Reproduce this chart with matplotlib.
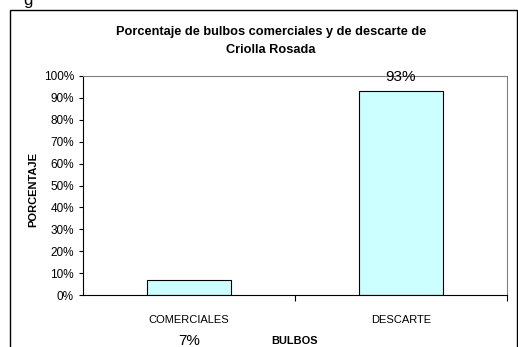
import matplotlib
matplotlib.use("Agg")
import matplotlib.pyplot as plt
from matplotlib.patches import Rectangle

categories = ["COMERCIALES", "DESCARTE"]
values = [7, 93]
value_labels = ["7%", "93%"]
yticks = list(range(0, 101, 10))

plt.rcParams["font.family"] = ["Liberation Sans", "DejaVu Sans"]

W, H = 518, 347
fig = plt.figure(figsize=(W / 100, H / 100), dpi=100)
fig.patch.set_facecolor("white")

# outer chart frame (extends past the bottom edge)
fig.patches.append(Rectangle((10 / W, -0.05), 507 / W, 1 - 10 / H + 0.05,
                             transform=fig.transFigure, fill=False,
                             edgecolor="black", linewidth=1.0))
# caption letter above the frame, partly outside the figure
fig.text(28 / W, 1 - 5 / H, "g", fontsize=12, ha="center", va="baseline")

left, right, top, bottom = 83, 507, 76, 295
ax = fig.add_axes([left / W, 1 - bottom / H, (right - left) / W, (bottom - top) / H])

x = list(range(len(categories)))
ax.bar(x, values, width=0.4, color="#CCFFFF", edgecolor="black", linewidth=0.8, zorder=2)
ax.set_xlim(-0.5, len(categories) - 0.5)
ax.set_ylim(0, 100)

ax.set_yticks(yticks)
ax.set_yticklabels([f"{v}%" for v in yticks], fontsize=8.5)
ax.tick_params(axis="y", direction="out", length=3, width=0.8, pad=3.5)

ax.set_xticks([i + 0.5 for i in range(len(categories))])
ax.set_xticklabels([])
ax.tick_params(axis="x", direction="out", length=4, width=0.8)
for i, c in enumerate(categories):
    ax.text(i, -11.4, c, fontsize=8, ha="center", va="center")

for spine in ("top", "right"):
    ax.spines[spine].set_color("#808080")
    ax.spines[spine].set_linewidth(0.8)
for spine in ("left", "bottom"):
    ax.spines[spine].set_color("black")
    ax.spines[spine].set_linewidth(0.8)

# value labels
ax.text(1, 99.5, value_labels[1], fontsize=11, ha="center", va="center", clip_on=False)
ax.text(0, -21, value_labels[0], fontsize=11, ha="center", va="center", clip_on=False)

ax.text(0.5, -21, "BULBOS", fontsize=7.9, fontweight="bold", ha="center", va="center")
fig.text(33 / W, 1 - 190 / H, "PORCENTAJE", fontsize=8, fontweight="bold",
         rotation=90, ha="center", va="center")

fig.text(271 / W, 1 - 32 / H, "Porcentaje de bulbos comerciales y de descarte de",
         fontsize=9.2, fontweight="bold", ha="center", va="center")
fig.text(271 / W, 1 - 50 / H, "Criolla Rosada",
         fontsize=9.2, fontweight="bold", ha="center", va="center")

fig.savefig("out.png", dpi=100, facecolor="white")
